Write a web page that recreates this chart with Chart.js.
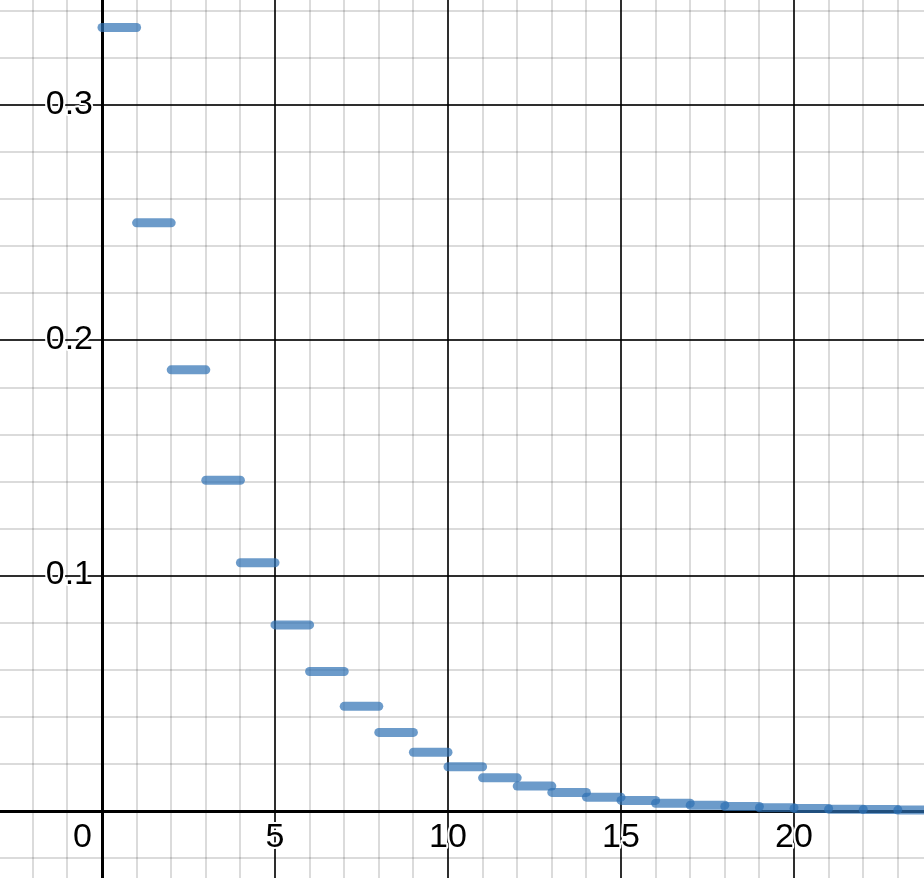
<!DOCTYPE html>
<html>
<head>
<meta charset="utf-8">
<script src="https://cdn.jsdelivr.net/npm/chart.js@4"></script>
<style>
  html, body { margin: 0; padding: 0; background: #fff; }
  #wrap { width: 924px; height: 878px; }
</style>
</head>
<body>
<div id="wrap"><canvas id="chart" width="924" height="878"></canvas></div>
<script>
// step n runs from x = n to x = n + 1 at height stepValues[n]
const stepStarts = [0, 1, 2, 3, 4, 5, 6, 7, 8, 9, 10, 11, 12, 13, 14, 15, 16, 17, 18, 19, 20, 21, 22, 23];
const stepValues = [0.333, 0.25, 0.1875, 0.1406, 0.1055, 0.0791, 0.0593, 0.0445, 0.0334, 0.025,
    0.0188, 0.0141, 0.0106, 0.0079, 0.0059, 0.0045, 0.0033, 0.0025, 0.0019, 0.0014,
    0.0011, 0.0008, 0.0006, 0.0004];
const xTickLabels = [0, 5, 10, 15, 20];
const yTickLabels = [0.1, 0.2, 0.3];

const X_MIN = -2.948, X_MAX = 23.757;
const Y_MIN = -0.02847, Y_MAX = 0.3447;
const STEP_COLOR = 'rgba(45, 112, 179, 0.7)';

function gridColor(isAxis, isMajor) {
    if (isAxis) return '#000';
    if (isMajor) return 'rgba(0, 0, 0, 0.82)';
    return 'rgba(0, 0, 0, 0.14)';
}

function gridWidth(isAxis, isMajor) {
    if (isAxis) return 3;
    return 2;
}

function isMultiple(v, step) {
    return Math.abs(v / step - Math.round(v / step)) < 1e-6;
}

const labelsPlugin = {
    id: 'axisLabels',
    afterDraw(chart) {
        const ctx = chart.ctx;
        const xs = chart.scales.x, ys = chart.scales.y;
        const x0 = xs.getPixelForValue(0), y0 = ys.getPixelForValue(0);
        ctx.save();
        ctx.font = '34px "Liberation Sans", Arial, sans-serif';
        ctx.lineJoin = 'round';
        ctx.lineWidth = 4;
        ctx.strokeStyle = '#fff';
        ctx.fillStyle = '#000';

        ctx.textBaseline = 'middle';
        ctx.textAlign = 'right';
        yTickLabels.forEach(v => {
            const y = ys.getPixelForValue(v) - 1;
            ctx.strokeText(String(v), x0 - 9, y);
            ctx.fillText(String(v), x0 - 9, y);
        });

        ctx.textBaseline = 'alphabetic';
        xTickLabels.forEach(v => {
            let x = xs.getPixelForValue(v);
            if (v === 0) {
                ctx.textAlign = 'right';
                x = x0 - 10;
            } else {
                ctx.textAlign = 'center';
            }
            ctx.strokeText(String(v), x, y0 + 36);
            ctx.fillText(String(v), x, y0 + 36);
        });
        ctx.restore();
    }
};

const datasets = stepStarts.map((n, i) => ({
    data: [{ x: n, y: stepValues[i] }, { x: n + 1, y: stepValues[i] }],
    showLine: true,
    borderColor: STEP_COLOR,
    borderWidth: 9,
    borderCapStyle: 'round',
    pointRadius: 0,
    pointHoverRadius: 0
}));

new Chart(document.getElementById('chart'), {
    type: 'scatter',
    data: { datasets },
    options: {
        responsive: false,
        animation: false,
        events: [],
        layout: { padding: 0 },
        plugins: { legend: { display: false }, tooltip: { enabled: false } },
        scales: {
            x: {
                type: 'linear',
                min: X_MIN,
                max: X_MAX,
                border: { display: false },
                ticks: { display: false, stepSize: 1, includeBounds: false, padding: 0 },
                grid: {
                    drawTicks: false,
                    color: c => gridColor(c.tick.value === 0, isMultiple(c.tick.value, 5)),
                    lineWidth: c => gridWidth(c.tick.value === 0, isMultiple(c.tick.value, 5))
                }
            },
            y: {
                type: 'linear',
                min: Y_MIN,
                max: Y_MAX,
                border: { display: false },
                ticks: { display: false, stepSize: 0.02, includeBounds: false, padding: 0 },
                grid: {
                    drawTicks: false,
                    color: c => gridColor(Math.abs(c.tick.value) < 1e-9, isMultiple(c.tick.value, 0.1)),
                    lineWidth: c => gridWidth(Math.abs(c.tick.value) < 1e-9, isMultiple(c.tick.value, 0.1))
                }
            }
        }
    },
    plugins: [labelsPlugin]
});
</script>
</body>
</html>
